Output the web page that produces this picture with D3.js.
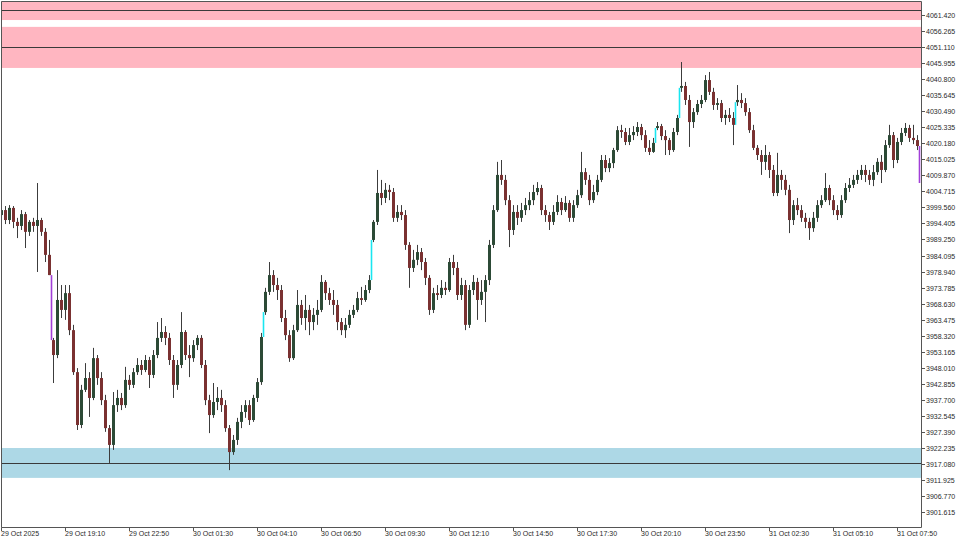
<!DOCTYPE html>
<html>
<head>
<meta charset="UTF-8">
<title>XAUUSD M10</title>
<script src="https://d3js.org/d3.v7.min.js"></script>
<style>
  body { margin: 0; background: #fff; }
  svg { display: block; }
  .lbl { font-family: "Liberation Sans", Arial, sans-serif; font-size: 7px; fill: #2a2a2a; }
</style>
</head>
<body>
<div id="chart"></div>
<script>
// bar data, 10 minute bars, 29 Oct 16:30 .. 31 Oct 08:40
const opens = [
  3997.1,3998.7,3995.5,3999.4,3994.9,3993.6,3997.4,3991.7,3994.9,3993.6,
  3995.5,3991.7,3984.3,3956.9,3952.1,3969.8,3966.6,3972.0,3960.1,3946.6,
  3929.6,3940.9,3944.7,3938.3,3951.1,3944.7,3937.6,3928.6,3923.2,3936.0,
  3938.3,3936.0,3944.1,3942.5,3946.6,3948.9,3947.3,3950.5,3945.7,3952.1,
  3957.6,3959.5,3957.6,3950.5,3942.5,3948.9,3959.5,3952.1,3951.1,3955.3,
  3957.6,3948.9,3937.6,3932.8,3937.0,3938.3,3936.0,3928.6,3920.9,3924.8,
  3930.6,3933.8,3936.0,3931.2,3938.3,3943.4,3965.9,3972.4,3977.8,3974.6,
  3973.0,3964.0,3958.5,3951.1,3960.1,3968.2,3964.0,3966.6,3962.7,3965.0,
  3966.6,3975.6,3972.0,3969.8,3968.2,3962.7,3960.1,3961.8,3965.0,3966.6,
  3970.4,3969.8,3973.0,3989.1,3994.9,4004.2,4002.6,4005.2,4004.5,3996.2,
  3998.1,3997.1,3987.5,3980.1,3982.7,3985.2,3982.0,3976.9,3966.6,3972.0,
  3971.4,3973.7,3973.0,3982.0,3980.1,3971.4,3974.6,3961.8,3973.0,3975.6,
  3969.8,3972.4,3976.2,3987.5,3998.7,4010.0,4008.4,4001.9,3992.3,3998.1,
  3996.2,3998.7,4000.3,4001.9,4004.5,4005.8,3998.7,3997.1,3994.9,3998.1,
  4001.3,3998.7,4001.0,3996.2,4000.3,4003.5,4010.9,4008.4,4001.9,4004.5,
  4008.4,4014.8,4012.2,4013.8,4018.0,4024.4,4023.8,4020.6,4022.8,4023.8,
  4025.4,4022.8,4018.7,4017.4,4025.1,4025.7,4022.5,4021.2,4018.0,4023.8,
  4038.0,4038.6,4034.1,4027.0,4030.2,4032.8,4034.1,4040.5,4036.7,4032.5,
  4033.1,4028.3,4029.3,4028.3,4033.4,4034.1,4033.1,4030.2,4024.4,4018.7,
  4016.4,4014.2,4016.4,4011.6,4004.2,4010.0,4008.4,4005.2,3995.5,4000.3,
  3998.7,3996.2,3994.9,3992.9,3996.2,4000.3,4001.9,4005.8,4001.9,3998.7,
  3997.1,4001.9,4005.8,4006.8,4008.4,4010.0,4011.6,4010.0,4008.4,4010.9,
  4014.2,4011.6,4019.6,4022.8,4014.8,4020.6,4023.5,4025.1,4021.9,4021.2
];
const highs = [
  3999.7,4000.0,4000.3,4000.0,3996.2,3998.7,3998.1,3995.5,3996.2,4007.4,
  3996.2,3992.9,3989.1,3957.6,3979.4,3974.6,3974.6,3974.6,3961.8,3947.9,
  3942.5,3949.5,3946.6,3954.4,3952.1,3946.6,3939.3,3929.6,3940.2,3940.9,
  3939.9,3948.3,3945.7,3947.9,3951.1,3950.5,3952.1,3951.5,3953.7,3962.7,
  3964.0,3961.4,3959.2,3952.1,3950.5,3965.9,3960.1,3955.3,3956.9,3958.5,
  3958.5,3950.5,3939.3,3943.1,3941.8,3940.9,3937.6,3929.6,3926.4,3931.9,
  3936.0,3937.6,3937.6,3939.3,3944.7,3959.2,3973.7,3982.0,3979.4,3976.9,
  3974.6,3966.6,3960.1,3961.8,3973.0,3969.8,3971.4,3968.2,3967.2,3969.8,
  3977.8,3976.2,3973.7,3973.0,3969.8,3964.0,3964.0,3966.6,3968.2,3972.4,
  3974.0,3974.6,3977.8,3995.5,4011.6,4008.4,4007.4,4006.8,4005.8,4000.3,
  4000.3,3998.7,3988.4,3985.9,3987.5,3986.5,3983.3,3977.8,3973.7,3974.6,
  3976.2,3975.6,3983.3,3984.3,3982.0,3976.9,3976.2,3974.6,3977.8,3976.9,
  3976.2,3977.8,3989.1,4000.3,4014.2,4014.8,4010.0,4003.5,4000.3,4000.3,
  4001.0,4002.6,4004.5,4006.8,4007.7,4006.8,4000.3,3998.1,4000.3,4003.5,
  4002.6,4003.2,4001.9,4001.9,4005.2,4017.4,4012.2,4010.0,4006.8,4010.0,
  4016.4,4016.4,4015.4,4018.7,4025.7,4026.1,4025.1,4025.1,4025.7,4027.0,
  4026.4,4024.4,4021.2,4021.9,4027.0,4026.4,4024.4,4021.9,4025.1,4029.3,
  4046.3,4039.9,4035.7,4031.5,4034.1,4035.7,4042.1,4043.1,4038.0,4034.7,
  4034.1,4030.9,4031.5,4030.2,4038.9,4036.3,4034.7,4031.5,4026.1,4019.6,
  4018.0,4019.6,4017.4,4013.2,4017.1,4011.6,4010.0,4006.8,4001.9,4002.6,
  4000.3,3997.8,3996.2,3998.1,4001.9,4003.5,4010.6,4006.8,4003.5,4000.3,
  4003.5,4007.4,4009.0,4010.0,4011.6,4013.2,4013.2,4011.6,4013.2,4015.4,
  4016.4,4021.2,4026.1,4023.8,4021.9,4025.1,4026.7,4026.1,4026.1,4022.8
];
const lows = [
  3994.9,3994.2,3994.2,3992.9,3989.7,3992.3,3986.5,3990.4,3991.7,3978.8,
  3990.4,3982.0,3977.8,3943.1,3951.1,3964.0,3963.4,3958.5,3945.7,3928.0,
  3928.6,3940.2,3932.2,3937.6,3942.5,3936.0,3927.4,3917.4,3921.6,3933.8,
  3934.4,3935.1,3940.9,3941.5,3945.7,3945.7,3946.6,3941.5,3944.7,3951.1,
  3956.3,3955.3,3948.9,3938.3,3940.9,3947.9,3950.5,3945.0,3949.9,3953.7,
  3947.9,3936.0,3927.0,3931.9,3934.4,3933.8,3927.4,3915.1,3920.0,3923.2,
  3928.6,3931.9,3929.6,3930.6,3937.0,3942.5,3965.0,3971.4,3972.4,3969.8,
  3962.7,3956.9,3949.9,3950.5,3959.5,3961.8,3960.1,3958.5,3960.1,3961.8,
  3965.9,3969.8,3968.2,3965.0,3960.1,3958.5,3957.6,3960.8,3964.0,3965.9,
  3968.2,3969.2,3972.0,3988.4,3993.9,4000.3,4001.0,4001.9,3994.9,3994.9,
  3995.5,3985.9,3973.7,3978.8,3981.0,3979.4,3974.6,3965.0,3965.6,3969.8,
  3970.4,3971.4,3972.4,3977.8,3969.8,3969.8,3960.1,3960.8,3971.4,3963.4,
  3968.2,3962.7,3974.6,3986.5,3998.1,4006.8,4000.3,3986.8,3990.7,3993.9,
  3994.9,3997.1,3998.7,4000.3,4003.5,3997.1,3994.9,3992.3,3993.9,3997.1,
  3997.1,3998.1,3994.9,3994.9,3999.4,4002.6,4006.8,4000.3,4001.0,4003.5,
  4007.7,4010.9,4010.9,4012.2,4017.4,4021.9,4019.6,4019.6,4021.2,4022.5,
  4021.2,4017.4,4016.4,4017.1,4024.4,4021.2,4016.4,4016.4,4017.4,4022.8,
  4036.7,4032.5,4019.0,4025.1,4029.3,4031.5,4033.4,4035.7,4030.9,4030.9,
  4027.0,4026.1,4027.0,4019.6,4032.2,4031.5,4029.0,4023.5,4018.0,4014.8,
  4010.0,4011.6,4009.0,4003.2,4003.2,4005.2,4003.5,3991.3,3993.9,3997.1,
  3994.9,3992.9,3989.1,3991.7,3994.9,3999.4,4001.3,4000.3,3997.1,3995.5,
  3996.2,4001.0,4004.5,4005.8,4007.1,4008.4,4007.7,4006.8,4006.4,4010.0,
  4007.4,4010.9,4018.7,4012.2,4013.8,4019.6,4022.5,4020.6,4019.9,4018.0
];
const closes = [
  3998.7,3995.5,3999.4,3994.9,3993.6,3997.4,3991.7,3994.9,3993.6,3995.5,
  3991.7,3984.3,3977.8,3952.1,3969.8,3966.6,3972.0,3960.1,3946.6,3929.6,
  3940.9,3944.7,3938.3,3951.1,3944.7,3937.6,3928.6,3923.2,3936.0,3938.3,
  3936.0,3944.1,3942.5,3946.6,3948.9,3947.3,3950.5,3945.7,3952.1,3957.6,
  3959.5,3957.6,3950.5,3942.5,3948.9,3959.5,3952.1,3951.1,3955.3,3957.6,
  3948.9,3937.6,3932.8,3937.0,3938.3,3936.0,3928.6,3920.9,3924.8,3930.6,
  3933.8,3936.0,3931.2,3938.3,3943.4,3957.9,3972.4,3977.8,3974.6,3973.0,
  3964.0,3958.5,3951.1,3960.1,3968.2,3964.0,3966.6,3962.7,3965.0,3966.6,
  3975.6,3972.0,3969.8,3968.2,3962.7,3960.1,3961.8,3965.0,3966.6,3970.4,
  3969.8,3973.0,3976.2,3994.9,4004.2,4002.6,4005.2,4004.5,3996.2,3998.1,
  3997.1,3987.5,3980.1,3982.7,3985.2,3982.0,3976.9,3966.6,3972.0,3971.4,
  3973.7,3973.0,3982.0,3980.1,3971.4,3974.6,3961.8,3973.0,3975.6,3969.8,
  3972.4,3976.2,3987.5,3998.7,4010.0,4008.4,4001.9,3992.3,3998.1,3996.2,
  3998.7,4000.3,4001.9,4004.5,4005.8,3998.7,3997.1,3994.9,3998.1,4001.3,
  3998.7,4001.0,3996.2,4000.3,4003.5,4010.9,4008.4,4001.9,4004.5,4008.4,
  4014.8,4012.2,4013.8,4018.0,4024.4,4023.8,4020.6,4022.8,4023.8,4025.4,
  4022.8,4018.7,4017.4,4020.3,4025.7,4022.5,4021.2,4018.0,4023.8,4028.3,
  4038.6,4034.1,4027.0,4030.2,4032.8,4034.1,4040.5,4036.7,4032.5,4033.1,
  4028.3,4029.3,4028.3,4026.1,4034.1,4033.1,4030.2,4024.4,4018.7,4016.4,
  4014.2,4016.4,4011.6,4004.2,4010.0,4008.4,4005.2,3995.5,4000.3,3998.7,
  3996.2,3994.9,3992.9,3996.2,4000.3,4001.9,4005.8,4001.9,3998.7,3997.1,
  4001.9,4005.8,4006.8,4008.4,4010.0,4011.6,4010.0,4008.4,4010.9,4014.2,
  4011.6,4019.6,4022.8,4014.8,4020.6,4023.5,4025.1,4021.9,4021.2,4019.3
];

// gap markers (bar index where the jump lands, price before, price after)
const gapIndex = [13, 66, 93, 164, 170, 184, 230];
const gapFrom  = [3977.8, 3957.9, 3976.2, 4020.3, 4028.3, 4026.1, 4019.3];
const gapTo    = [3956.9, 3965.9, 3989.1, 4025.1, 4038.0, 4033.4, 4007.4];

// supply / demand zones
const zoneKind   = ["supply", "supply", "demand"];
const zoneTop    = [4068.0, 4057.6, 3922.2];
const zoneBottom = [4059.8, 4044.4, 3912.6];
const zoneLevel  = [4063.0, 4051.0, 3917.4];

// axis labels
const timeTickIndex = [0,16,32,48,64,80,96,112,128,144,160,176,192,208,224];
const timeTickLabels = ["29 Oct 2025","29 Oct 19:10","29 Oct 22:50","30 Oct 01:30","30 Oct 04:10",
  "30 Oct 06:50","30 Oct 09:30","30 Oct 12:10","30 Oct 14:50","30 Oct 17:30","30 Oct 20:10",
  "30 Oct 23:50","31 Oct 02:30","31 Oct 05:10","31 Oct 07:50"];
const priceTicks = ["3901.615","3906.770","3911.925","3917.080","3922.235","3927.390","3932.545",
  "3937.700","3942.855","3948.010","3953.165","3958.320","3963.475","3968.630","3973.785",
  "3978.940","3984.095","3989.250","3994.405","3999.560","4004.715","4009.870","4015.025",
  "4020.180","4025.335","4030.490","4035.645","4040.800","4045.955","4051.110","4056.265","4061.420"];

const width = 960, height = 540;
const plotRight = 921, plotBottom = 527;

const svg = d3.select("#chart").append("svg")
  .attr("width", width).attr("height", height);

const x = d3.scaleLinear().domain([0, 230]).range([1.3, 921.3]);
const y = d3.scaleLinear().domain([3896.81, 4066.24]).range([plotBottom, 0]);

svg.append("clipPath").attr("id", "plot")
  .append("rect").attr("x", 1).attr("y", 1).attr("width", plotRight - 1).attr("height", plotBottom - 1);

const plot = svg.append("g").attr("clip-path", "url(#plot)");

// zones
const zoneFill = { supply: "#ffb6c1", demand: "#add8e6" };
zoneKind.forEach((k, i) => {
  plot.append("rect")
    .attr("x", 0).attr("width", plotRight)
    .attr("y", y(zoneTop[i])).attr("height", y(zoneBottom[i]) - y(zoneTop[i]))
    .attr("fill", zoneFill[k]);
  const ly = Math.round(y(zoneLevel[i])) + 0.5;
  plot.append("line")
    .attr("x1", 0).attr("x2", plotRight).attr("y1", ly).attr("y2", ly)
    .attr("stroke", "#3a3a3a").attr("stroke-width", 1);
});

// gap markers
gapIndex.forEach((gi, i) => {
  const gx = Math.round(x(gi) - 2) + 0.5;
  plot.append("line")
    .attr("x1", gx).attr("x2", gx)
    .attr("y1", y(gapFrom[i])).attr("y2", y(gapTo[i]))
    .attr("stroke", gapTo[i] > gapFrom[i] ? "#19e6f0" : "#a23fd8")
    .attr("stroke-width", 1.6);
});

// candles
const bars = d3.range(closes.length);
const cg = plot.append("g");
cg.selectAll("line.wick").data(bars).join("line")
  .attr("class", "wick")
  .attr("x1", i => Math.round(x(i)) + 0.5).attr("x2", i => Math.round(x(i)) + 0.5)
  .attr("y1", i => y(highs[i])).attr("y2", i => y(lows[i]))
  .attr("stroke", "#3c3c3c").attr("stroke-width", 1);

cg.selectAll("rect.body").data(bars).join("rect")
  .attr("class", "body")
  .attr("x", i => Math.round(x(i)) - 1)
  .attr("width", 3)
  .attr("y", i => y(Math.max(opens[i], closes[i])))
  .attr("height", i => Math.max(1, Math.abs(y(opens[i]) - y(closes[i]))))
  .attr("fill", i => closes[i] >= opens[i] ? "#2c4a36" : "#7a3131");

// frame
svg.append("path")
  .attr("d", `M1.5,${plotBottom + 0.5}V1.5H${plotRight + 0.5}V${plotBottom + 0.5}Z`)
  .attr("fill", "none").attr("stroke", "#555").attr("stroke-width", 1);

// price axis
const yAxis = svg.append("g");
priceTicks.forEach(t => {
  const ty = Math.round(y(+t)) + 0.5;
  yAxis.append("line").attr("x1", plotRight + 0.5).attr("x2", plotRight + 4)
    .attr("y1", ty).attr("y2", ty).attr("stroke", "#555");
  yAxis.append("text").attr("class", "lbl")
    .attr("x", plotRight + 5).attr("y", ty).attr("dy", "0.35em")
    .text(t);
});

// time axis
const xAxis = svg.append("g");
timeTickIndex.forEach((ti, k) => {
  const tx = Math.round(x(ti)) + 0.5;
  xAxis.append("line").attr("x1", tx).attr("x2", tx)
    .attr("y1", plotBottom + 0.5).attr("y2", plotBottom + 4).attr("stroke", "#555");
  xAxis.append("text").attr("class", "lbl")
    .attr("x", tx - 0.5).attr("y", plotBottom + 9)
    .text(timeTickLabels[k]);
});
</script>
</body>
</html>
